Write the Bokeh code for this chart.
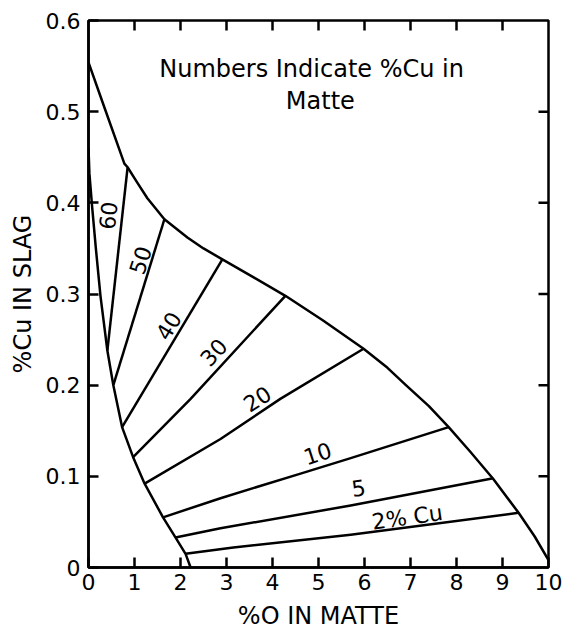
from bokeh.plotting import figure
from bokeh.models import Range1d, FixedTicker, Label, ColumnDataSource
from bokeh.core.properties import value
from bokeh.embed import file_html
from bokeh.resources import INLINE

# ---- data ----
x_ticks = [0, 1, 2, 3, 4, 5, 6, 7, 8, 9, 10]
y_ticks = [0, 0.1, 0.2, 0.3, 0.4, 0.5, 0.6]
y_tick_labels = ["0", "0.1", "0.2", "0.3", "0.4", "0.5", "0.6"]

# upper boundary (matte saturation)
upper_x = [0.0, 0.35, 0.78, 0.85, 1.05, 1.28, 1.65, 2.15, 2.5, 2.91, 3.6, 4.28, 5.1, 5.98, 6.5, 6.9, 7.4, 7.83, 8.3, 8.8, 9.35, 9.7, 10.0]
upper_y = [0.554, 0.504, 0.443, 0.439, 0.423, 0.405, 0.382, 0.362, 0.350, 0.338, 0.318, 0.298, 0.271, 0.240, 0.219, 0.200, 0.177, 0.154, 0.127, 0.097, 0.060, 0.034, 0.008]

# lower boundary
lower_x = [0.0, 0.02, 0.08, 0.16, 0.26, 0.41, 0.54, 0.73, 0.97, 1.22, 1.62, 1.89, 2.11, 2.22]
lower_y = [0.46, 0.432, 0.395, 0.35, 0.298, 0.238, 0.200, 0.154, 0.121, 0.092, 0.055, 0.033, 0.015, 0.0]

# tie lines (% Cu in matte)
tie_cu = [60, 50, 40, 30, 20, 10, 5, 2]
tie_xs = [
    [0.41, 0.85],
    [0.54, 1.65],
    [0.73, 2.91],
    [0.97, 2.22, 4.28],
    [1.22, 2.87, 4.17, 5.98],
    [1.62, 2.87, 4.61, 5.70, 7.83],
    [1.89, 2.87, 5.70, 8.80],
    [2.11, 3.15, 5.70, 9.35],
]
tie_ys = [
    [0.238, 0.439],
    [0.200, 0.382],
    [0.154, 0.338],
    [0.121, 0.185, 0.298],
    [0.092, 0.141, 0.185, 0.240],
    [0.055, 0.076, 0.103, 0.120, 0.154],
    [0.033, 0.043, 0.068, 0.098],
    [0.015, 0.022, 0.036, 0.060],
]

label_text = ["60", "50", "40", "30", "20", "10", "5", "2% Cu"]
label_x = [0.43, 1.13, 1.74, 2.72, 3.67, 4.98, 5.87, 6.93]
label_y = [0.386, 0.337, 0.265, 0.236, 0.185, 0.125, 0.087, 0.055]
label_angle = [84, 72, 59, 47, 32, 18, 8, 8]

FONT = "DejaVu Sans"
LW = 2.5

p = figure(width=567, height=634, x_range=Range1d(0, 10), y_range=Range1d(0, 0.6),
           output_backend="svg", toolbar_location=None,
           min_border_left=88, min_border_right=19, min_border_top=20, min_border_bottom=67)
p.background_fill_color = "white"
p.border_fill_color = "white"
p.xgrid.visible = False
p.ygrid.visible = False
p.outline_line_color = "black"
p.outline_line_width = LW


def style_axis(ax, ticks):
    ax.ticker = FixedTicker(ticks=ticks)
    ax.axis_line_color = "black"
    ax.axis_line_width = LW
    ax.major_tick_in = 10
    ax.major_tick_out = 0
    ax.major_tick_line_width = LW
    ax.major_tick_line_color = "black"
    ax.minor_tick_line_color = None
    ax.major_label_text_font = FONT
    ax.major_label_text_font_size = "22px"
    ax.major_label_text_color = "black"
    ax.axis_label_text_font = FONT
    ax.axis_label_text_font_size = "24px"
    ax.axis_label_text_font_style = "normal"
    ax.axis_label_text_color = "black"


style_axis(p.xaxis[0], x_ticks)
style_axis(p.yaxis[0], y_ticks)
p.xaxis[0].major_label_standoff = 6
p.xaxis[0].axis_label_standoff = 9
p.yaxis[0].major_label_standoff = 8
p.yaxis[0].axis_label_standoff = 6
p.yaxis[0].major_label_overrides = {t: s for t, s in zip(y_ticks, y_tick_labels)}
p.xaxis[0].axis_label = "%O IN MATTE"
p.yaxis[0].axis_label = "%Cu IN SLAG"

# inward ticks on the top and right frame edges
p.ray(x=x_ticks[1:-1], y=[y_ticks[-1]] * (len(x_ticks) - 2), length=10, length_units="screen",
      angle=-90, angle_units="deg", line_color="black", line_width=LW)
p.ray(x=[x_ticks[-1]] * (len(y_ticks) - 2), y=y_ticks[1:-1], length=10, length_units="screen",
      angle=180, angle_units="deg", line_color="black", line_width=LW)

p.line(upper_x, upper_y, line_color="black", line_width=LW, line_join="round")
p.line(lower_x, lower_y, line_color="black", line_width=LW, line_join="round")
p.multi_line(tie_xs, tie_ys, line_color="black", line_width=LW, line_join="round")

src = ColumnDataSource(dict(x=label_x, y=label_y, text=label_text, angle=label_angle))
p.text(x="x", y="y", text="text", angle="angle", angle_units="deg", source=src,
       text_font=value(FONT), text_font_size="22px", text_align="center",
       text_baseline="middle", text_color="black")

p.add_layout(Label(x=4.85, y=0.547, text="Numbers Indicate %Cu in", text_font=FONT,
                   text_font_size="24px", text_align="center", text_baseline="middle",
                   text_color="black"))
p.add_layout(Label(x=5.04, y=0.512, text="Matte", text_font=FONT,
                   text_font_size="24px", text_align="center", text_baseline="middle",
                   text_color="black"))

open("out.html", "w").write(file_html(p, INLINE))
